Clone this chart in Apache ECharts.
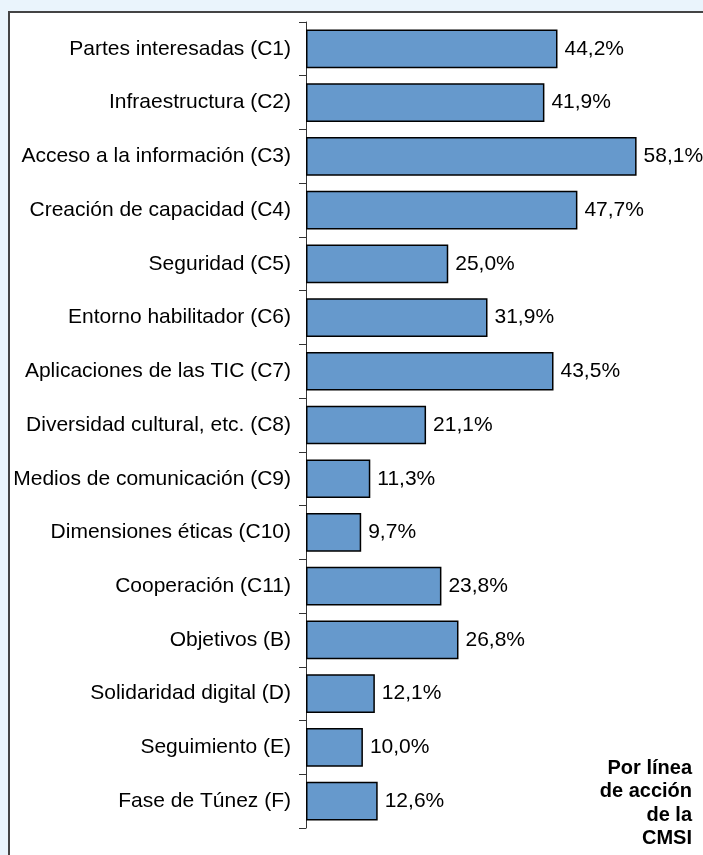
<!DOCTYPE html>
<html>
<head>
<meta charset="utf-8">
<script src="https://cdn.jsdelivr.net/npm/echarts@6/dist/echarts.min.js"></script>
<style>
  html, body { margin: 0; padding: 0; background: #eaf4fc; overflow: hidden; }
  #panel {
    position: absolute; left: 8px; top: 11px; width: 720px; height: 870px;
    background: #fff; border-left: 2px solid #444; border-top: 2px solid #444;
    box-sizing: border-box;
  }
  #chart { position: absolute; left: 0; top: 0; width: 703px; height: 855px; }
</style>
</head>
<body>
<div id="panel"></div>
<div id="chart"></div>
<script>
// lineas de accion de la CMSI
const categories = [
  'Partes interesadas (C1)',
  'Infraestructura (C2)',
  'Acceso a la información (C3)',
  'Creación de capacidad (C4)',
  'Seguridad (C5)',
  'Entorno habilitador (C6)',
  'Aplicaciones de las TIC (C7)',
  'Diversidad cultural, etc. (C8)',
  'Medios de comunicación (C9)',
  'Dimensiones éticas (C10)',
  'Cooperación (C11)',
  'Objetivos (B)',
  'Solidaridad digital (D)',
  'Seguimiento (E)',
  'Fase de Túnez (F)'
]
const values = [44.2, 41.9, 58.1, 47.7, 25.0, 31.9, 43.5, 21.1, 11.3, 9.7, 23.8, 26.8, 12.1, 10.0, 12.6]
const noteLines = ['Por línea', 'de acción', 'de la', 'CMSI']

const font = "'Liberation Sans', Arial, sans-serif"
const chart = echarts.init(document.getElementById('chart'))

chart.setOption({
  backgroundColor: 'transparent',
  animation: false,
  grid: {
    left: 306,
    right: 55.6,
    top: 22,
    bottom: 27
  },
  xAxis: {
    type: 'value',
    min: 0,
    max: 60,
    show: false
  },
  yAxis: {
    type: 'category',
    data: categories,
    inverse: true,
    axisLine: { show: true, lineStyle: { color: '#333', width: 1 } },
    axisTick: { show: true, length: 7, alignWithLabel: false, lineStyle: { color: '#333' } }, // marcas entre categorias
    axisLabel: {
      margin: 15,
      color: '#000',
      fontSize: 21,
      fontFamily: font
    }
  },
  series: [
    {
      type: 'bar',
      data: values,
      barCategoryGap: '28%',
      itemStyle: {
        color: '#6699cc',
        borderColor: '#000',
        borderWidth: 1.5
      },
      label: {
        show: true,
        position: 'right',
        distance: 7,
        color: '#000',
        fontSize: 21,
        fontFamily: font,
        formatter: (p) => p.value.toFixed(1).replace('.', ',') + '%'
      }
    }
  ],
  graphic: noteLines.map((t, i) => ({
    type: 'text',
    style: {
      x: 692,
      y: 768 + i * 23.5,
      text: t,
      align: 'right',
      verticalAlign: 'middle',
      fill: '#000',
      font: 'bold 20px ' + font
    }
  }))
})
</script>
</body>
</html>
